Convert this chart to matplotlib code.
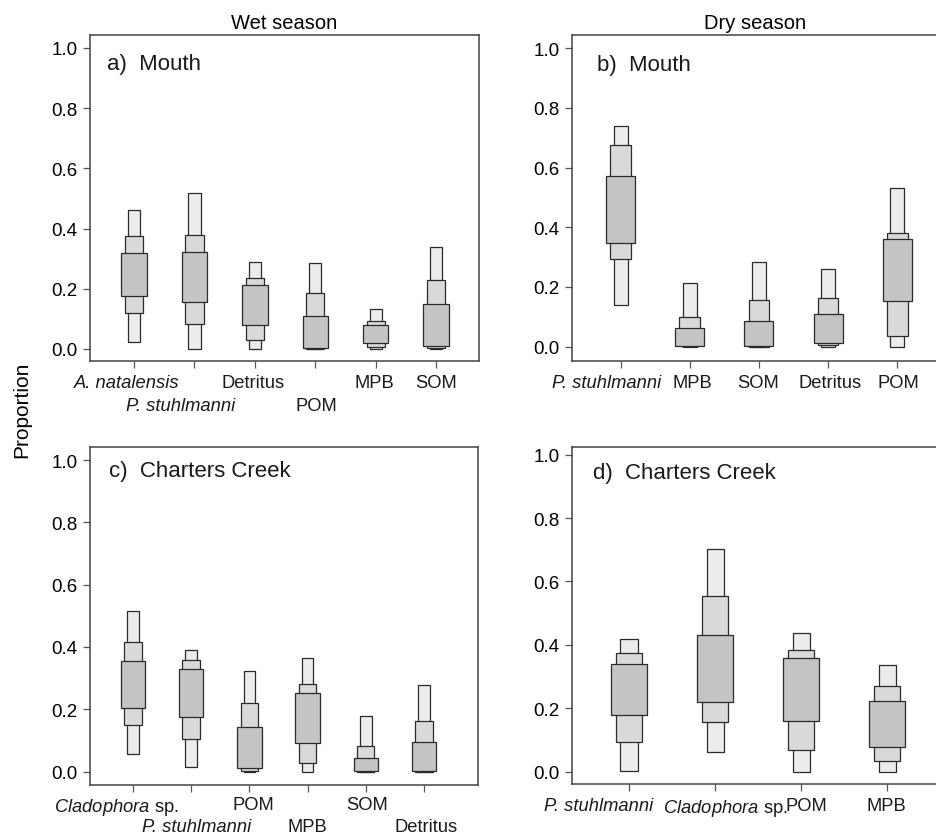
import matplotlib
matplotlib.use('Agg')
import matplotlib.pyplot as plt
from matplotlib import transforms

plt.rcParams['font.family'] = ['Liberation Sans', 'DejaVu Sans']
plt.rcParams['mathtext.fontset'] = 'custom'
plt.rcParams['mathtext.it'] = 'Liberation Sans:italic'
plt.rcParams['mathtext.rm'] = 'Liberation Sans'

CLADO = r'$\mathit{Cladophora}$ sp.'

# a) Mouth, wet season
src_a = ['A. natalensis', 'P. stuhlmanni', 'Detritus', 'POM', 'MPB', 'SOM']
lo95_a = [0.022, 0.000, 0.000, 0.000, 0.000, 0.000]
hi95_a = [0.463, 0.519, 0.288, 0.286, 0.134, 0.338]
lo75_a = [0.121, 0.082, 0.031, 0.001, 0.006, 0.002]
hi75_a = [0.374, 0.380, 0.236, 0.185, 0.094, 0.230]
lo50_a = [0.175, 0.157, 0.078, 0.002, 0.020, 0.009]
hi50_a = [0.318, 0.323, 0.214, 0.110, 0.078, 0.148]

# b) Mouth, dry season
src_b = ['P. stuhlmanni', 'MPB', 'SOM', 'Detritus', 'POM']
lo95_b = [0.140, 0.000, 0.000, 0.000, 0.000]
hi95_b = [0.740, 0.213, 0.282, 0.260, 0.531]
lo75_b = [0.295, 0.001, 0.000, 0.006, 0.035]
hi75_b = [0.677, 0.098, 0.156, 0.162, 0.382]
lo50_b = [0.346, 0.003, 0.001, 0.012, 0.154]
hi50_b = [0.573, 0.064, 0.087, 0.110, 0.359]

# c) Charters Creek, wet season
src_c = [CLADO, 'P. stuhlmanni', 'POM', 'MPB', 'SOM', 'Detritus']
lo95_c = [0.055, 0.015, 0.000, 0.000, 0.000, 0.000]
hi95_c = [0.517, 0.389, 0.324, 0.366, 0.179, 0.277]
lo75_c = [0.151, 0.105, 0.002, 0.029, 0.000, 0.000]
hi75_c = [0.415, 0.359, 0.219, 0.282, 0.081, 0.164]
lo50_c = [0.204, 0.174, 0.011, 0.092, 0.002, 0.001]
hi50_c = [0.354, 0.330, 0.142, 0.251, 0.043, 0.096]

# d) Charters Creek, dry season
src_d = ['P. stuhlmanni', CLADO, 'POM', 'MPB']
lo95_d = [0.002, 0.062, 0.000, 0.000]
hi95_d = [0.417, 0.701, 0.436, 0.335]
lo75_d = [0.093, 0.156, 0.067, 0.033]
hi75_d = [0.373, 0.553, 0.384, 0.270]
lo50_d = [0.180, 0.219, 0.161, 0.077]
hi50_d = [0.340, 0.430, 0.360, 0.222]

especies = ['A. natalensis', 'P. stuhlmanni']  # en cursiva

# colocación de las etiquetas: fila (0/1) y corrimiento horizontal en px
fila_a = [0, 1, 0, 1, 0, 0];  dx_a = [-7.5, -13.5, -1.5, 1, -1.5, 0]
fila_b = [0, 0, 0, 0, 0];     dx_b = [-14, 3, -1, 2, 1]
fila_c = [0, 1, 0, 1, 0, 1];  dx_c = [-16.7, 5, 4, 0, 1, 2.5]
fila_d = [0, 0, 0, 0];        dx_d = [-30, 10, 5, -1]

c95 = '#ececee'
c75 = '#d9d9db'
c50 = '#c4c4c6'
borde = '#2a2a2a'
marco = '#444444'

W, H = 936., 837.
fig = plt.figure(figsize=(9.36, 8.37), dpi=100)

def caja(px_left, px_right, px_top, px_bottom):
	return fig.add_axes([px_left/W, 1-px_bottom/H, (px_right-px_left)/W, (px_bottom-px_top)/H])

# (ejes, fuentes, filas, dx, intervalos..., xlim, ylim, etiqueta, x etiqueta, y etiqueta, bajada fila 1, bajada fila 2)
paneles = [
	(caja(90, 479, 36, 362), src_a, fila_a, dx_a, lo95_a, hi95_a, lo75_a, hi75_a, lo50_a, hi50_a, (0.27, 6.71), (-0.040, 1.043), 'a)  Mouth', 0.044, 0.982, 13, 23),
	(caja(572, 938, 36, 362), src_b, fila_b, dx_b, lo95_b, hi95_b, lo75_b, hi75_b, lo50_b, hi50_b, (0.295, 5.59), (-0.048, 1.044), 'b)  Mouth', 0.068, 0.982, 13, 23),
	(caja(90, 478, 448, 786), src_c, fila_c, dx_c, lo95_c, hi95_c, lo75_c, hi75_c, lo50_c, hi50_c, (0.26, 6.93), (-0.043, 1.042), 'c)  Charters Creek', 0.049, 1.0, 11, 22),
	(caja(572, 938, 448, 785), src_d, fila_d, dx_d, lo95_d, hi95_d, lo75_d, hi75_d, lo50_d, hi50_d, (0.337, 4.59), (-0.039, 1.024), 'd)  Charters Creek', 0.057, 0.978, 13, 23),
]

for ax, src, fila, dx, l95, h95, l75, h75, l50, h50, xl, yl, etiqueta, xt, yt, b1, b2 in paneles:
	x = list(range(1, len(src)+1))
	ax.bar(x, [h-l for l, h in zip(l95, h95)], bottom=l95, width=0.2, facecolor=c95, edgecolor=borde, linewidth=0.9, zorder=2)
	ax.bar(x, [h-l for l, h in zip(l75, h75)], bottom=l75, width=0.3, facecolor=c75, edgecolor=borde, linewidth=0.9, zorder=3)
	ax.bar(x, [h-l for l, h in zip(l50, h50)], bottom=l50, width=0.42, facecolor=c50, edgecolor=borde, linewidth=0.9, zorder=4)
	ax.set_xlim(*xl)
	ax.set_ylim(*yl)
	ax.set_xticks(x)
	ax.set_xticklabels([])
	ax.set_yticks([0, 0.2, 0.4, 0.6, 0.8, 1.0])
	ax.set_yticklabels(['0.0', '0.2', '0.4', '0.6', '0.8', '1.0'], fontsize=13.5)
	ax.tick_params(axis='both', direction='out', length=5, width=0.9, color='#555555', pad=4)
	for s in ax.spines.values():
		s.set_color(marco)
		s.set_linewidth(1.1)

	# etiquetas de fuentes en una o dos filas bajo el eje
	base = transforms.blended_transform_factory(ax.transData, ax.transAxes)
	for xi, nombre, f, d in zip(x, src, fila, dx):
		tr = transforms.offset_copy(base, fig=fig, x=d, y=-(b1 + b2*f), units='dots')
		estilo = 'italic' if nombre in especies else 'normal'
		ax.text(xi, 0, nombre, transform=tr, fontsize=13.2, fontstyle=estilo, ha='center', va='top', color='#1a1a1a')

	tr_lab = transforms.blended_transform_factory(ax.transAxes, ax.transData)
	ax.text(xt, yt, etiqueta, transform=tr_lab, fontsize=16, va='top', ha='left', color='#1a1a1a')

paneles[0][0].set_title('Wet season', fontsize=14.5, pad=5)
paneles[1][0].set_title('Dry season', fontsize=14.5, pad=5)
fig.text(22/W, 1-410/H, 'Proportion', rotation=90, fontsize=15, va='center', ha='center')

plt.savefig('out.png', dpi=100)
